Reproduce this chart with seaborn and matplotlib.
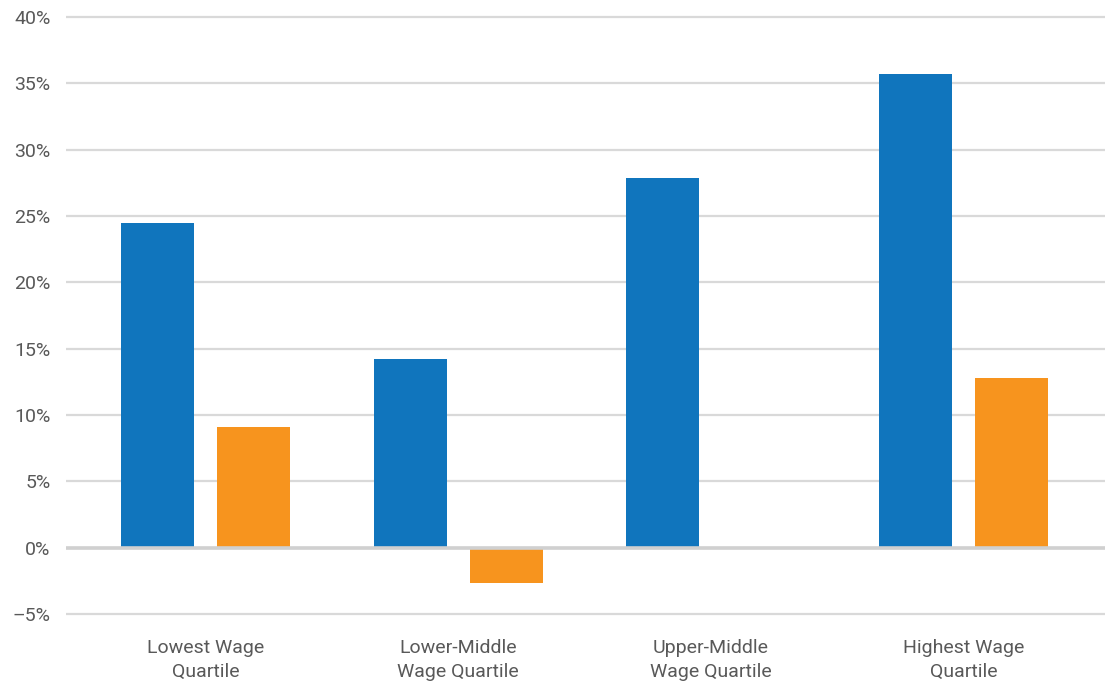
import matplotlib
matplotlib.use("Agg")
import matplotlib.pyplot as plt
import seaborn as sns
import pandas as pd
from matplotlib import font_manager

categories = ["Lowest Wage\nQuartile", "Lower-Middle\nWage Quartile",
              "Upper-Middle\nWage Quartile", "Highest Wage\nQuartile"]
series_names = ["Series 1", "Series 2"]
series1 = [24.5, 14.2, 27.9, 35.7]
series2 = [9.1, -2.7, 0.0, 12.8]
yticks = [-5, 0, 5, 10, 15, 20, 25, 30, 35, 40]
ytick_labels = ["\u20135%", "0%", "5%", "10%", "15%", "20%", "25%", "30%", "35%", "40%"]

sns.set_theme(style="white")
avail = {f.name for f in font_manager.fontManager.ttflist}
fam = "Liberation Sans Narrow" if "Liberation Sans Narrow" in avail else "Roboto"
plt.rcParams['font.family'] = [fam, 'DejaVu Sans']

df = pd.DataFrame({
    "category": categories * 2,
    "series": [series_names[0]] * 4 + [series_names[1]] * 4,
    "value": series1 + series2,
})

W, H = 1105, 687
fig = plt.figure(figsize=(W / 100, H / 100), dpi=100)
top_px, bot_px = 14.35, 616.65
ax = fig.add_axes([66 / W, 1 - bot_px / H, 1 - 66 / W, (bot_px - top_px) / H])

sns.barplot(data=df, x="category", y="value", hue="series",
            palette=["#1075BD", "#F7941E"], width=0.76, gap=0.24,
            legend=False, ax=ax, saturation=1, linewidth=0, edgecolor="none")

ax.set_ylim(-5.2, 40.2)
ax.set_xlim(-0.552, 3.56)
ax.set_yticks(yticks)
ax.set_yticklabels(ytick_labels)
ax.yaxis.grid(True, color="#d9d9d9", linewidth=1.6)
ax.set_axisbelow(True)
ax.axhline(0, color="#d0d0d0", linewidth=2.6, zorder=5)
for s in ax.spines.values():
    s.set_visible(False)
ax.tick_params(axis="y", length=0, pad=11, labelsize=14, labelcolor="#595959")
ax.tick_params(axis="x", length=0, pad=16, labelsize=14, labelcolor="#595959")
for lbl in ax.get_xticklabels():
    lbl.set_linespacing(1.45)
ax.set_xlabel("")
ax.set_ylabel("")

fig.savefig("out.png", dpi=100)
